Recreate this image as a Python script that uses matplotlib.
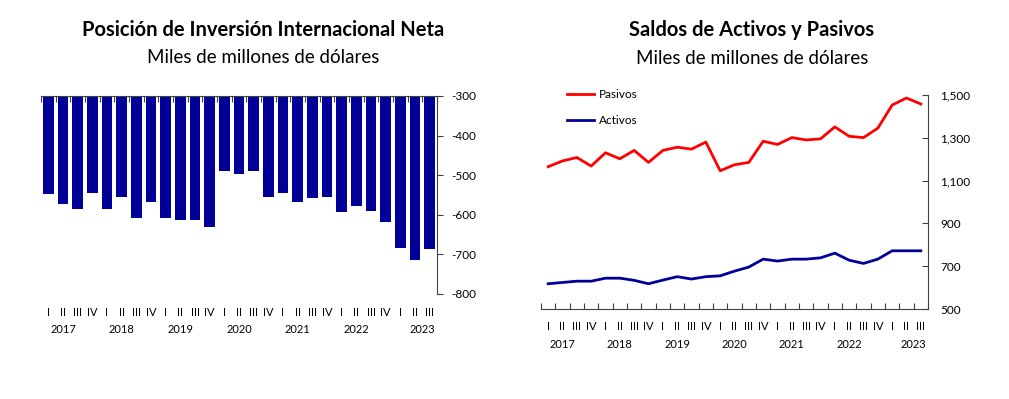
import numpy as np
import matplotlib
matplotlib.use("Agg")
import matplotlib.pyplot as plt
import matplotlib.transforms as mtransforms
from matplotlib.ticker import FuncFormatter

plt.rcParams['font.family'] = ['Lato', 'DejaVu Sans']
plt.rcParams['axes.unicode_minus'] = False

# Data (miles de millones de dolares), 2017 I - 2023 III
quarters = ["I", "II", "III", "IV"] * 6 + ["I", "II", "III"]
years = ["2017", "2018", "2019", "2020", "2021", "2022", "2023"]
year_pos = [1, 5, 9, 13, 17, 21, 25.5]

piin = [-547, -573, -585, -544, -585, -556, -609, -568, -609, -612, -612, -632,
        -490, -497, -490, -556, -544, -568, -558, -556, -594, -579, -591, -617,
        -683, -714, -686]

pasivos = [1165, 1192, 1208, 1168, 1230, 1202, 1241, 1185, 1241, 1256, 1247, 1280,
           1146, 1174, 1185, 1284, 1269, 1301, 1290, 1295, 1351, 1307, 1301, 1345,
           1453, 1486, 1458]
activos = [618, 624, 630, 630, 644, 644, 634, 618, 635, 651, 640, 651,
           655, 677, 696, 733, 724, 733, 733, 739, 761, 728, 713, 733,
           772, 772, 772]

BLUE = '#000099'
RED = '#ff0000'
SPINE = '#404040'

fig = plt.figure(figsize=(10.09, 3.99), dpi=100)
x = np.arange(len(quarters))
edges = np.arange(len(quarters) + 1) - 0.5


def cat_labels(ax):
    # two-level category labels below the plot area
    tr = mtransforms.blended_transform_factory(ax.transData, ax.transAxes)
    h = ax.get_position().height * 399
    for i, q in enumerate(quarters):
        ax.text(i, -18 / h, q, transform=tr, ha='center', va='center', fontsize=8)
    for p, y in zip(year_pos, years):
        ax.text(p, -35.5 / h, y, transform=tr, ha='center', va='center', fontsize=8)


# Left: Posicion de Inversion Internacional Neta
ax1 = fig.add_axes([41 / 1009, 1 - 294 / 399, 396 / 1009, 198 / 399])
ax1.bar(x, piin, width=0.73, color=BLUE)
ax1.set_xlim(-0.5, len(quarters) - 0.5)
ax1.set_ylim(-800, -300)
ax1.set_yticks(np.arange(-800, -299, 100))
ax1.yaxis.tick_right()
ax1.tick_params(axis='y', direction='out', length=4, pad=6.5, labelsize=8.5, color=SPINE)
ax1.xaxis.tick_top()
ax1.set_xticks(edges)
ax1.set_xticklabels([])
ax1.tick_params(axis='x', direction='in', length=4, color=SPINE)
for s in ['left', 'bottom']:
    ax1.spines[s].set_visible(False)
for s in ['top', 'right']:
    ax1.spines[s].set_color(SPINE)
cat_labels(ax1)

fig.text(0.261, 1 - 36 / 399, "Posición de Inversión Internacional Neta",
         ha='center', va='baseline', fontsize=14.5, fontweight='bold')
fig.text(0.261, 1 - 63 / 399, "Miles de millones de dólares",
         ha='center', va='baseline', fontsize=13.5)

# Right: Saldos de Activos y Pasivos
ax2 = fig.add_axes([541 / 1009, 1 - 309 / 399, 387 / 1009, 214 / 399])
ax2.plot(x, pasivos, color=RED, lw=2, label='Pasivos')
ax2.plot(x, activos, color=BLUE, lw=2, label='Activos')
ax2.set_xlim(-0.5, len(quarters) - 0.5)
ax2.set_ylim(500, 1500)
ax2.set_yticks(np.arange(500, 1501, 200))
ax2.yaxis.set_major_formatter(FuncFormatter(lambda v, p: f"{int(v):,}"))
ax2.yaxis.tick_right()
ax2.tick_params(axis='y', direction='in', length=4, pad=9, labelsize=8.5, color=SPINE)
ax2.set_xticks(edges)
ax2.set_xticklabels([])
ax2.tick_params(axis='x', direction='in', length=4, color=SPINE)
for s in ['left', 'top']:
    ax2.spines[s].set_visible(False)
for s in ['bottom', 'right']:
    ax2.spines[s].set_color(SPINE)
cat_labels(ax2)

ax2.legend(loc='upper left', bbox_to_anchor=(567 / 1009, 1 - 89 / 399),
           bbox_transform=fig.transFigure, frameon=False, fontsize=8.5,
           handlelength=2.3, handletextpad=0.4, labelspacing=1.25,
           borderpad=0, borderaxespad=0)

fig.text(0.745, 1 - 36 / 399, "Saldos de Activos y Pasivos",
         ha='center', va='baseline', fontsize=14.5, fontweight='bold')
fig.text(0.745, 1 - 64 / 399, "Miles de millones de dólares",
         ha='center', va='baseline', fontsize=13.5)

fig.savefig("out.png", dpi=100, facecolor='white')
